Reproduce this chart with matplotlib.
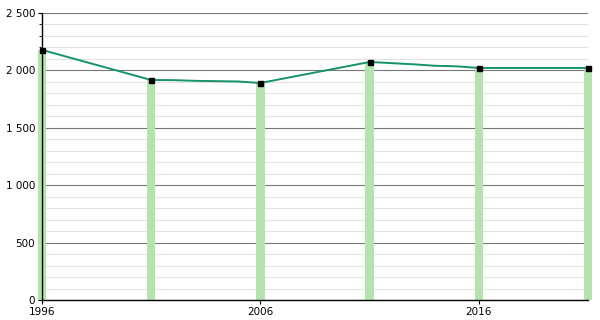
import matplotlib
matplotlib.use("Agg")
import matplotlib.pyplot as plt
from matplotlib.ticker import MultipleLocator, FuncFormatter

# census years and population
years = [1996, 2001, 2006, 2011, 2016, 2021]
population = [2178, 1916, 1890, 2073, 2021, 2021]

# annual line (slight kinks between censuses)
line_years = [1996, 2001, 2002, 2003, 2004, 2005, 2006, 2011, 2012, 2013, 2014, 2015, 2016, 2021]
line_pop = [2178, 1916, 1915, 1909, 1906, 1903, 1890, 2073, 2063, 2053, 2040, 2035, 2021, 2021]

fig = plt.figure(figsize=(6, 3.2), dpi=100)
ax = fig.add_axes([0.07, 0.0625, 0.91, 0.897])

ax.bar(years, population, width=0.38, color="#b5e3b0", zorder=2, clip_on=False)
ax.plot(line_years, line_pop, color="#16936a", lw=1.4, zorder=3, clip_on=False)
ax.plot(years, population, ls="none", marker="s", ms=3.6, color="black", zorder=4, clip_on=False)

ax.set_xlim(1996, 2021)
ax.set_ylim(0, 2500)
ax.yaxis.set_major_locator(MultipleLocator(500))
ax.yaxis.set_minor_locator(MultipleLocator(100))
ax.yaxis.set_major_formatter(FuncFormatter(lambda v, p: f"{int(v):,}".replace(",", " ")))
ax.set_xticks([1996, 2006, 2016])

ax.grid(axis="y", which="major", color="#777777", lw=0.8, zorder=1)
ax.grid(axis="y", which="minor", color="#e2e2e2", lw=0.8, zorder=1)
ax.set_axisbelow(True)

for s in ["top", "right"]:
    ax.spines[s].set_visible(False)
ax.spines["left"].set_linewidth(1.0)
ax.spines["bottom"].set_linewidth(1.0)
ax.tick_params(axis="both", labelsize=7.5, length=3, width=0.8, pad=2)
ax.tick_params(axis="y", which="minor", length=2, width=0.6)

fig.savefig("out.png", dpi=100)
